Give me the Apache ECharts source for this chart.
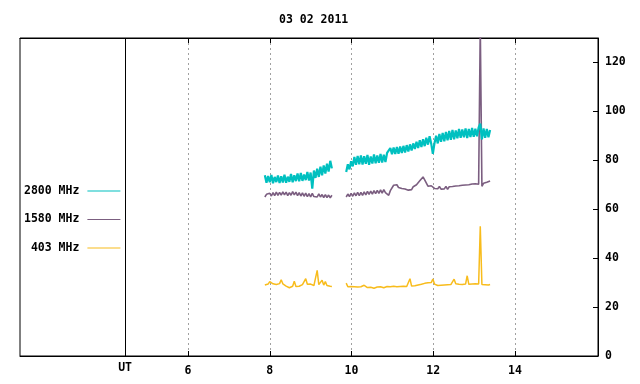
<!DOCTYPE html>
<html>
<head>
<meta charset="utf-8">
<script src="https://cdn.jsdelivr.net/npm/echarts@6/dist/echarts.min.js"></script>
<style>
  html, body { margin: 0; padding: 0; background: #fff; }
  #main { width: 640px; height: 384px; }
</style>
</head>
<body>
<div id="main"></div>
<script>
var chartDom = document.getElementById('main');
var myChart = echarts.init(chartDom);
var option;

// sampling: hours UT, one reading every 0.04 h
var step = 0.04;
var seg1Start = 7.88;
var seg2Start = 9.87;
var utMark = 4.46;
var hourTicks = [6, 8, 10, 12, 14];

var f2800a = [
  73.9, 70.8, 73.6, 71.0, 74.0, 70.6, 73.2, 71.1, 73.8, 70.7,
  73.5, 70.9, 74.1, 70.8, 73.3, 71.2, 74.4, 71.0, 73.9, 71.5,
  74.6, 71.4, 74.8, 71.6, 74.2, 71.9, 75.2, 71.7, 75.0, 68.4,
  75.8, 72.8, 76.6, 73.2, 77.4, 73.9, 77.9, 74.6, 78.6, 75.4, 79.8, 76.7
];
var f2800b = [
  75.2, 78.4, 76.3, 79.6, 77.5, 81.4, 78.2, 81.8, 78.4, 82.0,
  78.3, 81.7, 78.6, 82.2, 78.2, 81.6, 78.7, 82.4, 78.8, 82.0,
  79.0, 82.6, 79.1, 82.3, 79.3, 83.0, 82.2, 85.0, 82.5, 85.2,
  82.6, 85.4, 82.7, 85.6, 83.0, 85.9, 83.2, 86.2, 83.6, 86.5,
  84.0, 86.9, 84.6, 87.6, 85.0, 88.2, 85.4, 88.6, 85.8, 89.2,
  86.4, 89.8, 86.8, 82.6, 87.0, 90.0, 86.9, 90.8, 87.6, 91.2,
  87.8, 91.6, 88.2, 92.0, 88.4, 92.4, 88.6, 92.2, 89.0, 92.8,
  89.2, 92.6, 89.4, 93.0, 89.1, 92.8, 89.5, 93.2, 89.6, 92.9,
  89.8, 93.4, 95.0, 88.6, 93.0, 89.2, 92.8, 89.4, 92.4
];

var f1580a = [
  65.0, 66.1, 65.3, 66.5, 65.4, 66.8, 65.6, 67.0, 65.7, 66.9,
  65.8, 67.1, 65.9, 67.0, 65.6, 66.8, 65.7, 67.2, 65.9, 67.0,
  65.6, 66.8, 65.4, 66.7, 65.3, 66.6, 65.1, 66.4, 65.0, 66.5,
  65.2, 65.8, 65.0, 66.3, 65.0, 66.0, 64.8, 66.0, 64.8, 65.8, 64.7, 65.7
];
var f1580b = [
  65.0, 66.2, 65.2, 66.5, 65.3, 66.7, 65.5, 66.9, 65.6, 66.9,
  65.7, 67.1, 65.9, 67.3, 66.1, 67.4, 66.2, 67.6, 66.4, 67.7,
  66.5, 67.9, 66.6, 68.0, 66.8, 66.2, 65.7, 67.6, 68.4, 69.8,
  69.1, 70.0, 68.9, 69.6, 68.5, 69.2, 68.3, 68.9, 67.8, 68.6,
  68.0, 69.2, 68.7, 70.0, 70.2, 71.6, 72.0, 73.2, 72.0, 71.3,
  69.4, 69.8, 69.6, 69.4, 68.5, 69.3, 68.4, 69.3, 68.2, 69.0,
  68.3, 69.3, 68.1, 69.2, 68.6, 69.3, 68.7, 69.5, 68.8, 69.6,
  68.9, 69.8, 69.0, 69.9, 69.2, 70.0, 69.3, 70.3, 69.5, 70.4,
  69.6, 70.2, 135, 69.4, 70.6, 69.9, 71.0, 70.4, 71.5
];

var f403a = [
  29.0, 29.6, 29.4, 30.4, 29.8, 29.5, 29.3, 29.2, 29.4, 29.6,
  31.2, 29.5, 29.0, 28.6, 28.3, 27.9, 28.1, 28.5, 30.6, 28.4,
  28.7, 28.5, 28.9, 29.2, 28.8, 31.6, 29.3, 29.1, 29.4, 29.0,
  28.8, 28.6, 35.0, 29.2, 28.7, 31.0, 29.0, 30.4, 28.8, 28.6, 28.5, 28.4
];
var f403b = [
  29.8, 28.3, 28.2, 28.4, 28.1, 28.3, 28.0, 28.2, 28.1, 28.3,
  28.0, 28.9, 28.2, 28.0, 27.8, 28.1, 27.9, 27.7, 28.0, 28.2,
  28.0, 28.3, 28.1, 27.9, 28.2, 28.4, 28.1, 28.3, 28.0, 28.5,
  29.1, 28.3, 28.1, 28.4, 28.2, 28.5, 28.3, 28.4, 28.6, 31.6,
  28.6, 28.9, 28.7, 29.2, 29.0, 29.6, 29.3, 30.0, 29.7, 30.4,
  29.9, 30.2, 30.0, 31.5, 29.4, 29.0, 28.8, 29.2, 28.9, 29.3,
  29.0, 29.4, 29.1, 29.6, 29.2, 29.8, 31.4, 29.5, 29.9, 29.3,
  29.6, 29.2, 29.8, 29.4, 32.8, 29.3, 29.7, 29.4, 29.8, 29.5,
  29.3, 29.4, 53.0, 29.2, 29.4, 29.1, 29.3, 29.0, 29.2
];

var font = 'DejaVu Sans Mono';

function toSeries(a, b) {
  var out = a.map(function (v, i) { return [seg1Start + i * step, v]; });
  out.push([(seg1Start + a.length * step + seg2Start) / 2, null]);
  return out.concat(b.map(function (v, i) { return [seg2Start + i * step, v]; }));
}

function lineSeries(name, color, width, data) {
  return {
    name: name,
    type: 'line',
    data: data,
    symbol: 'none',
    connectNulls: false,
    animation: false,
    lineStyle: { color: color, width: width },
    itemStyle: { color: color },
    emphasis: { disabled: true }
  };
}

var s2800 = lineSeries('2800 MHz', '#00c0c0', 2.2, toSeries(f2800a, f2800b));
var s1580 = lineSeries('1580 MHz', '#7b5e80', 1.6, toSeries(f1580a, f1580b));
var s403 = lineSeries('403 MHz', '#f8bc1c', 1.5, toSeries(f403a, f403b));

s403.markLine = {
  silent: true,
  symbol: 'none',
  animation: false,
  lineStyle: { color: '#000', type: 'solid', width: 1 },
  label: {
    show: true,
    position: 'start',
    formatter: 'UT',
    distance: 6,
    color: '#000',
    fontFamily: font,
    fontWeight: 'bold',
    fontSize: 11.5
  },
  data: [{ xAxis: utMark }]
};

option = {
  backgroundColor: '#fff',
  animation: false,
  title: {
    text: '03 02 2011',
    left: 274,
    top: 9,
    textStyle: { fontFamily: font, fontWeight: 'bold', fontSize: 11.5, color: '#000' }
  },
  legend: {
    orient: 'vertical',
    left: 19,
    top: 180,
    align: 'right',
    icon: 'rect',
    itemWidth: 33,
    itemHeight: 1,
    itemGap: 16.5,
    data: ['2800 MHz', '1580 MHz', '403 MHz'],
    textStyle: {
      fontFamily: font, fontWeight: 'bold', fontSize: 11.5, color: '#000',
      padding: [0, 3, 0, 0]
    }
  },
  grid: {
    left: 20,
    right: 42,
    top: 38,
    bottom: 28,
    show: true,
    borderColor: '#000',
    borderWidth: 1
  },
  xAxis: [
    {
      type: 'value',
      min: 1.89,
      max: 16.03,
      position: 'bottom',
      axisLine: { lineStyle: { color: '#000' } },
      axisTick: { inside: true, length: 5, customValues: hourTicks, lineStyle: { color: '#000' } },
      axisLabel: {
        customValues: hourTicks,
        color: '#000', fontFamily: font, fontWeight: 'bold', fontSize: 11.5, margin: 9
      },
      splitLine: { show: true, lineStyle: { color: '#a0a0a0', type: [2, 3], width: 1 } }
    },
    {
      type: 'value',
      min: 1.89,
      max: 16.03,
      position: 'top',
      axisLine: { lineStyle: { color: '#000' } },
      axisTick: { inside: true, length: 5, customValues: hourTicks, lineStyle: { color: '#000' } },
      axisLabel: { show: false },
      splitLine: { show: false }
    }
  ],
  yAxis: {
    type: 'value',
    position: 'right',
    min: 0,
    max: 130,
    interval: 20,
    axisLine: { show: true, lineStyle: { color: '#000' } },
    axisTick: { show: true, inside: true, length: 5, lineStyle: { color: '#000' } },
    axisLabel: {
      showMaxLabel: false,
      color: '#000', fontFamily: font, fontWeight: 'bold', fontSize: 11.5, margin: 7
    },
    splitLine: { show: false }
  },
  series: [s403, s1580, s2800]
};

option && myChart.setOption(option);
</script>
</body>
</html>
